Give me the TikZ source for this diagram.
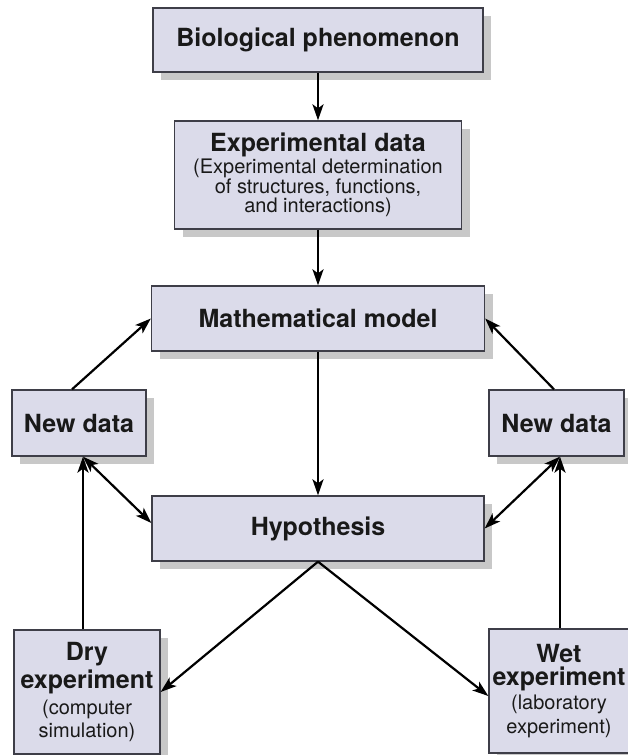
\documentclass[tikz,border=0pt]{standalone}
\usepackage{fontspec}
\setmainfont{TeX Gyre Heros}
\usetikzlibrary{arrows.meta,shadows,calc}
\definecolor{boxfill}{RGB}{219,219,234}
\definecolor{boxline}{RGB}{62,62,72}
\definecolor{shadowgray}{RGB}{200,200,200}
\newcommand{\ttlfont}{\fontsize{25}{26}\selectfont\bfseries}
\newcommand{\subfont}{\fontsize{20}{20.5}\selectfont\mdseries}
\tikzset{
  box/.style={draw=boxline, fill=boxfill, line width=1.3pt, inner sep=0pt,
    align=center, text=black!90,
    drop shadow={shadow xshift=8pt, shadow yshift=-8pt, fill=shadowgray, opacity=1}},
  tip/.tip={Stealth[length=16pt,width=11pt,inset=4pt]},
  arr/.style={line width=2.2pt, -tip},
  biarr/.style={line width=2.2pt, tip-tip}
}
\begin{document}
\begin{tikzpicture}[x=1pt,y=-1pt]
\useasboundingbox (0,0) rectangle (627,755);
\node[box, minimum width=330pt, minimum height=64pt] (bio) at (318,40) {\ttlfont Biological phenomenon};
\node[box, minimum width=287pt, minimum height=108pt] (exp) at (318,175)
  {\ttlfont Experimental data\\[1pt]\subfont (Experimental determination\\[0.5pt]\subfont of structures, functions,\\[0.5pt]\subfont and interactions)};
\node[box, minimum width=333pt, minimum height=65pt] (math) at (318,318.5) {\ttlfont Mathematical model};
\node[box, minimum width=332pt, minimum height=65pt] (hyp) at (318,528.5) {\ttlfont Hypothesis};
\node[box, minimum width=134pt, minimum height=66pt] (ndl) at (79,423) {\ttlfont New data};
\node[box, minimum width=135pt, minimum height=66pt] (ndr) at (556.5,423) {\ttlfont New data};
\node[box, minimum width=146pt, minimum height=124pt] (dry) at (87,692)
  {\ttlfont Dry\\[3pt]\ttlfont experiment\\[5pt]\subfont (computer\\[3pt]\subfont simulation)};
\node[box, minimum width=140pt, minimum height=124pt] (wet) at (559,691)
  {\ttlfont Wet\\[3pt]\ttlfont experiment\\[3pt]\subfont (laboratory\\[4pt]\subfont experiment)};
\coordinate (jl) at ($(dry.north)+(-4pt,0)$);
\coordinate (jl2) at (jl |- ndl.south);
\coordinate (jr) at ($(wet.north)+(1pt,0)$);
\coordinate (jr2) at (jr |- ndr.south);
\draw[arr] (bio.south) -- (exp.north);
\draw[arr] (exp.south) -- (math.north);
\draw[arr] (math.south) -- (hyp.north);
\draw[arr] ($(ndl.north)+(-7pt,0)$) -- (math.west);
\draw[arr] ($(ndr.north)+(-2.5pt,0)$) -- (math.east);
\draw[arr] (jl) -- (jl2);
\draw[arr] (jr) -- (jr2);
\draw[biarr] (jl2) -- ($(hyp.west)+(0,5.5pt)$);
\draw[biarr] (jr2) -- (hyp.east);
\draw[arr] (hyp.south) -- (dry.east);
\draw[arr] (hyp.south) -- ($(wet.west)+(0,-5pt)$);
\end{tikzpicture}
\end{document}
